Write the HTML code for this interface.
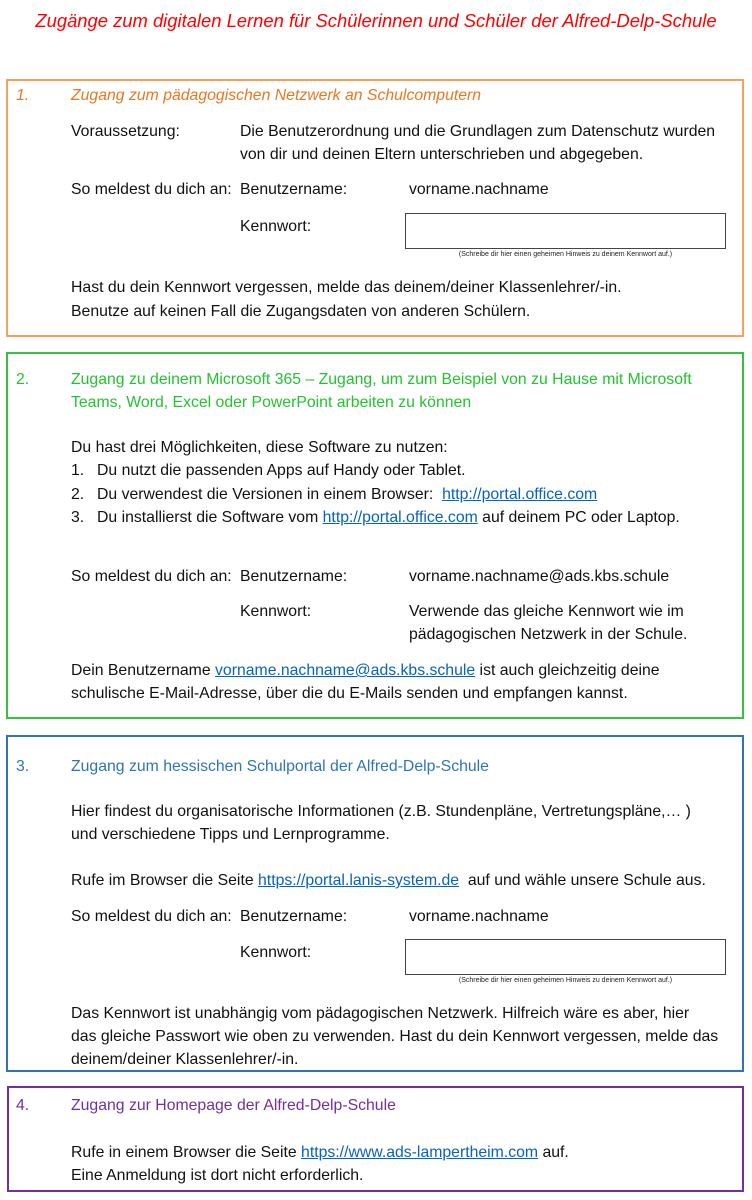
<!DOCTYPE html>
<html><head><meta charset="utf-8"><style>
body{margin:0;width:752px;height:1200px;background:#fff;position:relative;font-family:"Liberation Sans",sans-serif;font-size:15.8px;color:#111;overflow:hidden}
.t{position:absolute;white-space:nowrap;line-height:20px;height:20px}
.box{position:absolute;box-sizing:border-box;border:2px solid}
.in{position:absolute;border:1px solid #444;box-sizing:border-box;width:321px;height:36px;left:405px}
.h{position:absolute;font-size:7px;color:#222;left:405px;width:321px;text-align:center}
a{color:#0563C1;text-decoration:underline}
.o{color:#E87722;font-style:italic}.g{color:#22C32E}.b{color:#2E75B6}.p{color:#7030A0}
</style></head><body>
<div class="t" style="left:0;width:752px;text-align:center;top:11px;color:#F00;font-style:italic;font-size:18.4px">Zugänge zum digitalen Lernen für Schülerinnen und Schüler der Alfred-Delp-Schule</div>

<div class="box" style="left:6px;top:79px;width:738px;height:258px;border-color:#F5A15A"></div>
<div class="t o" style="left:16px;top:86px">1.</div>
<div class="t o" style="left:71px;top:86px">Zugang zum pädagogischen Netzwerk an Schulcomputern</div>
<div class="t" style="left:71px;top:122px">Voraussetzung:</div>
<div class="t" style="left:240px;top:122px">Die Benutzerordnung und die Grundlagen zum Datenschutz wurden</div>
<div class="t" style="left:240px;top:145px">von dir und deinen Eltern unterschrieben und abgegeben.</div>
<div class="t" style="left:71px;top:180px">So meldest du dich an:</div>
<div class="t" style="left:240px;top:180px">Benutzername:</div>
<div class="t" style="left:409px;top:180px">vorname.nachname</div>
<div class="t" style="left:240px;top:217px">Kennwort:</div>
<div class="in" style="top:213px"></div>
<div class="h" style="top:251px">(Schreibe dir hier einen geheimen Hinweis zu deinem Kennwort auf.)</div>
<div class="t" style="left:71px;top:278px">Hast du dein Kennwort vergessen, melde das deinem/deiner Klassenlehrer/-in.</div>
<div class="t" style="left:71px;top:302px">Benutze auf keinen Fall die Zugangsdaten von anderen Schülern.</div>

<div class="box" style="left:6px;top:352px;width:738px;height:367px;border-color:#33C33E"></div>
<div class="t g" style="left:16px;top:370px">2.</div>
<div class="t g" style="left:71px;top:370px">Zugang zu deinem Microsoft 365 – Zugang, um zum Beispiel von zu Hause mit Microsoft</div>
<div class="t g" style="left:71px;top:393px">Teams, Word, Excel oder PowerPoint arbeiten zu können</div>
<div class="t" style="left:71px;top:438px">Du hast drei Möglichkeiten, diese Software zu nutzen:</div>
<div class="t" style="left:71px;top:461px">1.</div><div class="t" style="left:97px;top:461px">Du nutzt die passenden Apps auf Handy oder Tablet.</div>
<div class="t" style="left:71px;top:485px">2.</div><div class="t" style="left:97px;top:485px">Du verwendest die Versionen in einem Browser:&nbsp; <a>http://portal.office.com</a></div>
<div class="t" style="left:71px;top:508px">3.</div><div class="t" style="left:97px;top:508px">Du installierst die Software vom <a>http://portal.office.com</a> auf deinem PC oder Laptop.</div>
<div class="t" style="left:71px;top:567px">So meldest du dich an:</div>
<div class="t" style="left:240px;top:567px">Benutzername:</div>
<div class="t" style="left:409px;top:567px">vorname.nachname@ads.kbs.schule</div>
<div class="t" style="left:240px;top:602px">Kennwort:</div>
<div class="t" style="left:409px;top:602px">Verwende das gleiche Kennwort wie im</div>
<div class="t" style="left:409px;top:625px">pädagogischen Netzwerk in der Schule.</div>
<div class="t" style="left:71px;top:661px">Dein Benutzername <a>vorname.nachname@ads.kbs.schule</a> ist auch gleichzeitig deine</div>
<div class="t" style="left:71px;top:684px">schulische E-Mail-Adresse, über die du E-Mails senden und empfangen kannst.</div>

<div class="box" style="left:6px;top:735px;width:738px;height:337px;border-color:#2E75B6"></div>
<div class="t b" style="left:16px;top:757px">3.</div>
<div class="t b" style="left:71px;top:757px">Zugang zum hessischen Schulportal der Alfred-Delp-Schule</div>
<div class="t" style="left:71px;top:802px">Hier findest du organisatorische Informationen (z.B. Stundenpläne, Vertretungspläne,… )</div>
<div class="t" style="left:71px;top:825px">und verschiedene Tipps und Lernprogramme.</div>
<div class="t" style="left:71px;top:871px">Rufe im Browser die Seite <a>https://portal.lanis-system.de</a>&nbsp; auf und wähle unsere Schule aus.</div>
<div class="t" style="left:71px;top:907px">So meldest du dich an:</div>
<div class="t" style="left:240px;top:907px">Benutzername:</div>
<div class="t" style="left:409px;top:907px">vorname.nachname</div>
<div class="t" style="left:240px;top:943px">Kennwort:</div>
<div class="in" style="top:939px"></div>
<div class="h" style="top:977px">(Schreibe dir hier einen geheimen Hinweis zu deinem Kennwort auf.)</div>
<div class="t" style="left:71px;top:1004px">Das Kennwort ist unabhängig vom pädagogischen Netzwerk. Hilfreich wäre es aber, hier</div>
<div class="t" style="left:71px;top:1027px">das gleiche Passwort wie oben zu verwenden. Hast du dein Kennwort vergessen, melde das</div>
<div class="t" style="left:71px;top:1050px">deinem/deiner Klassenlehrer/-in.</div>

<div class="box" style="left:7px;top:1086px;width:737px;height:106px;border-color:#7030A0"></div>
<div class="t p" style="left:16px;top:1096px">4.</div>
<div class="t p" style="left:71px;top:1096px">Zugang zur Homepage der Alfred-Delp-Schule</div>
<div class="t" style="left:71px;top:1143px">Rufe in einem Browser die Seite <a>https://www.ads-lampertheim.com</a> auf.</div>
<div class="t" style="left:71px;top:1166px">Eine Anmeldung ist dort nicht erforderlich.</div>
</body></html>
